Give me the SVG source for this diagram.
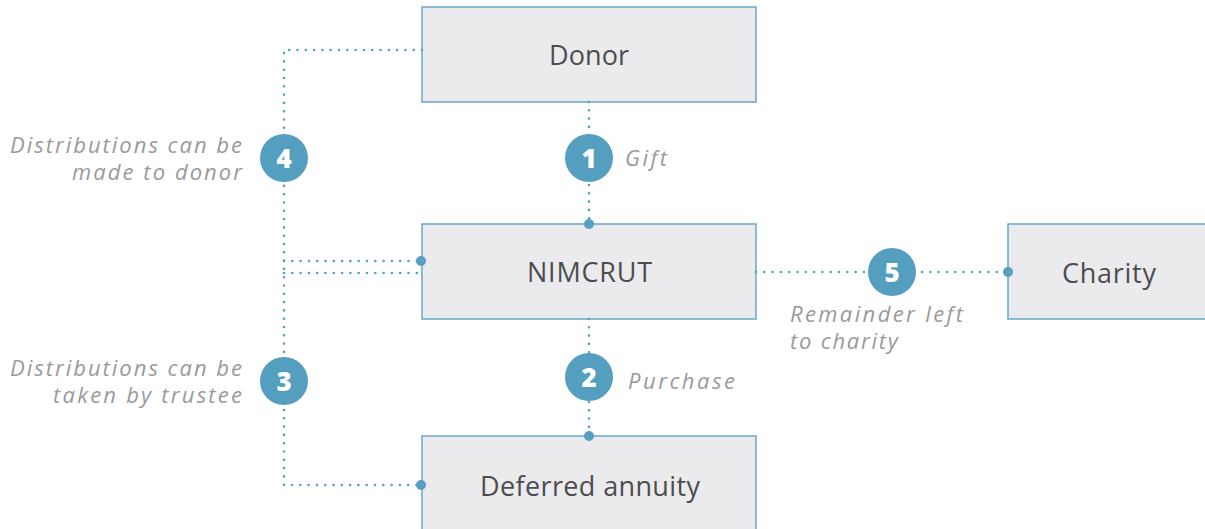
<svg xmlns="http://www.w3.org/2000/svg" width="1205" height="529" viewBox="0 0 1205 529">
  <style>
    .box { fill: #ebebee; stroke: #68a8c8; stroke-width: 1.5; }
    .label { font-family: "Open Sans", "Noto Sans", sans-serif; font-size: 27px; fill: #4d4d4f; text-anchor: middle; }
    .note { font-family: "Open Sans", "Noto Sans", sans-serif; font-size: 22px; font-style: italic; fill: #9a9a9a; }
    .right { text-anchor: end; }
    .dots { fill: none; stroke: #559fc1; stroke-width: 2.6; stroke-linecap: round; stroke-dasharray: 0 8.3; }
    .end { fill: #559fc1; }
    .badge { fill: #549ec0; }
    .num { font-family: "Open Sans", "Noto Sans", sans-serif; font-size: 26px; font-weight: 800; fill: #ffffff; text-anchor: middle; }
  </style>

  <g id="donor">
    <rect class="box" x="422" y="7" width="334" height="95"/>
    <text class="label" x="589" y="65" textLength="80" lengthAdjust="spacing">Donor</text>
  </g>

  <g id="nimcrut">
    <rect class="box" x="422" y="224" width="334" height="95"/>
    <text class="label" x="589.5" y="282" textLength="125" lengthAdjust="spacing">NIMCRUT</text>
  </g>

  <g id="deferred-annuity">
    <rect class="box" x="422" y="436" width="334" height="100"/>
    <text class="label" x="590" y="496" textLength="220" lengthAdjust="spacing">Deferred annuity</text>
  </g>

  <g id="charity">
    <rect class="box" x="1008" y="224" width="200" height="95"/>
    <text class="label" x="1109" y="283" textLength="94" lengthAdjust="spacing">Charity</text>
  </g>

  <!-- dotted connectors, with round end points on the target boxes -->
  <g id="connectors">
    <path class="dots" d="M422 50 H284 V485 H418"/>
    <path class="dots" d="M284 261 H418"/>
    <path class="dots" d="M284 273 H422"/>
    <path class="dots" d="M589 102 V224"/>
    <path class="dots" d="M589 319 V436"/>
    <path class="dots" d="M756 272 H1004"/>
    <circle class="end" cx="421" cy="261" r="5"/>
    <circle class="end" cx="421" cy="485" r="5"/>
    <circle class="end" cx="589" cy="224" r="5"/>
    <circle class="end" cx="589" cy="436" r="5"/>
    <circle class="end" cx="1008" cy="272" r="5"/>
  </g>

  <g id="step-1">
    <circle class="badge" cx="589" cy="158" r="24"/>
    <text class="num" x="589" y="167.5">1</text>
    <text class="note" x="625" y="166" textLength="42" lengthAdjust="spacing">Gift</text>
  </g>

  <g id="step-2">
    <circle class="badge" cx="589" cy="377" r="24"/>
    <text class="num" x="589" y="386.5">2</text>
    <text class="note" x="628" y="389" textLength="107" lengthAdjust="spacing">Purchase</text>
  </g>

  <g id="step-3">
    <circle class="badge" cx="284" cy="381" r="24"/>
    <text class="num" x="284" y="390.5">3</text>
    <text class="note right" x="242" y="376" textLength="232" lengthAdjust="spacing">Distributions can be</text>
    <text class="note right" x="242" y="403" textLength="189" lengthAdjust="spacing">taken by trustee</text>
  </g>

  <g id="step-4">
    <circle class="badge" cx="284" cy="158" r="24"/>
    <text class="num" x="284" y="167.5">4</text>
    <text class="note right" x="242" y="153" textLength="232" lengthAdjust="spacing">Distributions can be</text>
    <text class="note right" x="242" y="180" textLength="170" lengthAdjust="spacing">made to donor</text>
  </g>

  <g id="step-5">
    <circle class="badge" cx="892" cy="272" r="24"/>
    <text class="num" x="892" y="281.5">5</text>
    <text class="note" x="790" y="322" textLength="173" lengthAdjust="spacing">Remainder left</text>
    <text class="note" x="790" y="349" textLength="108" lengthAdjust="spacing">to charity</text>
  </g>
</svg>
